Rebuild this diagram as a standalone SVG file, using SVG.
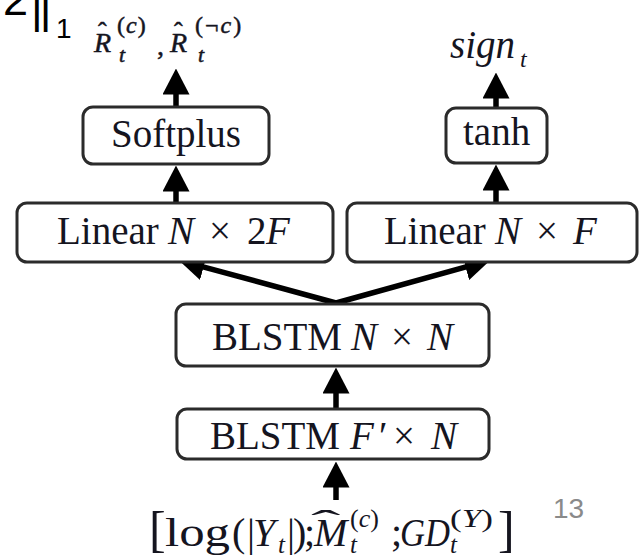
<svg xmlns="http://www.w3.org/2000/svg" width="640" height="556" viewBox="0 0 640 556">
<style>
.box{fill:#fff;stroke:#2b2b2b;stroke-width:3}
.t{font-family:"Liberation Serif","Times New Roman",serif;font-size:39px;fill:#15151f}
.i{font-style:italic}
.m{font-family:"Liberation Serif","Times New Roman",serif;fill:#15151f}
.conn{fill:none;stroke:#000;stroke-width:5.5}
.slide{font-family:"Liberation Sans","Open Sans",Arial,sans-serif}
</style>
<defs>
<marker id="ah" viewBox="0 0 26 27" markerWidth="26" markerHeight="27" refX="0.5" refY="13.5" orient="auto" markerUnits="userSpaceOnUse">
<path d="M0,0 L26,13.5 L0,27 Z" fill="#000"/>
</marker>
</defs>
<rect width="640" height="556" fill="#fff"/>

<!-- slide fragments -->
<g id="slide-fragment" class="slide" fill="#000">
<text x="3" y="15" font-size="45">2</text>
<text x="31" y="23" font-size="45" letter-spacing="-3">||</text>
<text x="56" y="38" font-size="28">1</text>
</g>
<text id="page-number" class="slide" x="553" y="518" font-size="28" fill="#8a8a8a">13</text>

<!-- connectors -->
<g id="connectors" class="conn">
<path d="M176,107 V94" marker-end="url(#ah)"/>
<path d="M176,203 V191" marker-end="url(#ah)"/>
<path d="M496,108 V98" marker-end="url(#ah)"/>
<path d="M496,203 V190" marker-end="url(#ah)"/>
<path d="M336,303 L203.1,266.8" marker-end="url(#ah)" stroke-linecap="round"/>
<path d="M336,303 L466,266.9" marker-end="url(#ah)" stroke-linecap="round"/>
<path d="M336,409 V393" marker-end="url(#ah)"/>
<path d="M336,500 V487" marker-end="url(#ah)"/>
</g>

<!-- nodes -->
<g id="softplus">
<rect class="box" x="83" y="107" width="186" height="57" rx="10"/>
<text class="t" x="111" y="147">Softplus</text>
</g>
<g id="tanh">
<rect class="box" x="446" y="108" width="101" height="55" rx="10"/>
<text class="t" x="463" y="145">tanh</text>
</g>
<g id="linear-2f">
<rect class="box" x="17" y="203" width="316" height="59" rx="10"/>
<text class="t" y="244"><tspan x="57">Linear</tspan><tspan class="i" x="168">N</tspan><tspan x="209">×</tspan><tspan x="247">2</tspan><tspan class="i" x="266">F</tspan></text>
</g>
<g id="linear-f">
<rect class="box" x="347" y="203" width="290" height="59" rx="10"/>
<text class="t" y="244"><tspan x="384">Linear</tspan><tspan class="i" x="495">N</tspan><tspan x="536">×</tspan><tspan class="i" x="573">F</tspan></text>
</g>
<g id="blstm-nn">
<rect class="box" x="176" y="304" width="313" height="62" rx="10"/>
<text class="t" y="350"><tspan x="212">BLSTM</tspan><tspan class="i" x="351">N</tspan><tspan x="391">×</tspan><tspan class="i" x="427">N</tspan></text>
</g>
<g id="blstm-fn">
<rect class="box" x="177" y="409" width="312" height="50" rx="10"/>
<text class="t" y="449"><tspan x="210">BLSTM</tspan><tspan class="i" x="350">F</tspan><tspan x="379">′</tspan><tspan x="393">×</tspan><tspan class="i" x="431">N</tspan></text>
</g>

<!-- output labels -->
<g id="out-r" class="m" stroke="#15151f" stroke-width="0.5">
<text x="94" y="52" font-size="28" class="i">R</text>
<text x="98" y="40" font-size="26">ˆ</text>
<text x="117" y="33" font-size="24" letter-spacing="1">(<tspan class="i">c</tspan>)</text>
<text x="119" y="62" font-size="22" class="i">t</text>
<text x="157" y="55" font-size="28">,</text>
<text x="170" y="52" font-size="28" class="i">R</text>
<text x="174" y="40" font-size="26">ˆ</text>
<text x="195" y="33" font-size="24" letter-spacing="2">(¬<tspan class="i">c</tspan>)</text>
<text x="198" y="62" font-size="22" class="i">t</text>
</g>
<g id="out-sign" class="m">
<text x="450" y="58" font-size="39" class="i">sign</text>
<text x="520" y="67" font-size="24" class="i">t</text>
</g>

<!-- input label -->
<g id="input" class="m" font-size="40">
<text x="149" y="546" font-size="50">[</text>
<text x="165" y="546" textLength="65" lengthAdjust="spacingAndGlyphs">log</text>
<text x="232" y="546">(</text>
<text x="247" y="546">|</text>
<text x="253" y="546" class="i">Y</text>
<text x="278" y="553" font-size="25" class="i">t</text>
<text x="287" y="546">|</text>
<text x="293" y="546">)</text>
<text x="304" y="546">;</text>
<text x="314" y="546" class="i">M</text>
<text x="0" y="0" font-size="34" transform="translate(311,534) scale(2.6,1)">ˆ</text>
<text x="350" y="527" font-size="26">(<tspan class="i">c</tspan>)</text>
<text x="350" y="553" font-size="25" class="i">t</text>
<text x="391" y="546">;</text>
<text x="400" y="546" class="i" textLength="50" lengthAdjust="spacingAndGlyphs">GD</text>
<text x="450" y="527" font-size="26" textLength="43" lengthAdjust="spacingAndGlyphs">(<tspan class="i">Y</tspan>)</text>
<text x="450" y="553" font-size="25" class="i">t</text>
<text x="498" y="546" font-size="50">]</text>
</g>
</svg>
